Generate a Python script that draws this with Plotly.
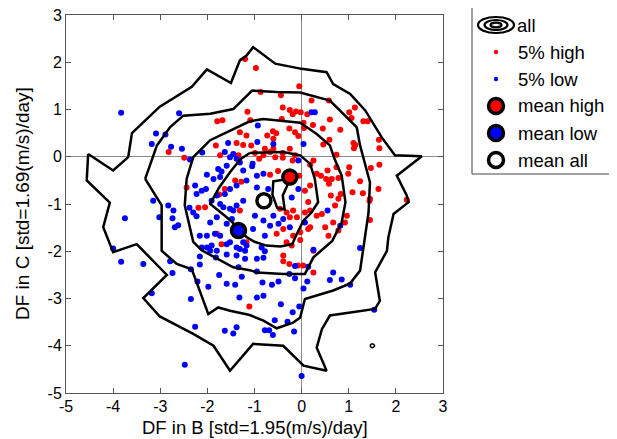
import plotly.graph_objects as go

# ---------------- data ----------------
red_x = [-1.20, -0.97, -0.05, -0.87, -0.44, 0.21, 0.58, -1.15, -1.79, -1.68, -1.09, -1.31, -1.17,
         -0.40, -0.25, -0.12, -0.02, -0.19, 1.01, 1.13, 1.31, 1.40, 1.06, 0.60, 0.24, -0.42, 0.82, 0.45,
         0.04, 0.05, 0.12, -0.26, -0.14, -0.07, 1.64, -0.73, -0.61, -0.54, -0.60, -1.82, -1.38, -1.24,
         -1.07, -2.82, -2.49, -1.73, -1.34, -0.25, 0.74, 0.46, 1.10, 1.14, 1.11, 1.65, 0.59, -0.99,
         -0.78, -0.67, -0.60, -0.40, -0.40, -0.19, -0.14, -0.56, -0.81, -0.90, 0.18, 0.32, 0.41, 0.52,
         0.55, 0.58, 0.99, 1.01, 0.74, 1.47, 1.65, 1.08, 1.30, 0.83, 0.62, 2.23, 0.18, 0.25, 0.78, 0.64,
         1.24, 1.63, 1.45, 0.07, 0.14, 0.18, 0.07, 0.32, 0.43, 0.71, 0.78, 0.96, 0.50, 0.67, 0.57, 0.78,
         0.92, 1.45, 0.18, -0.03, 0.25, 0.25, -0.39, -0.39, -0.26, -0.08, 0.03, 1.44, -0.46, -0.32,
         -0.18, -0.10, -0.25, -0.53, -0.18, -0.03, -0.39, 0.14, -0.21, -0.32, -2.44, -2.19, -2.05,
         -1.41, -1.63, -1.31, -1.80, -1.70, -1.11, -1.75, -1.28, -1.17, -0.67, -0.50, -0.05]
red_y = [2.07, 1.88, 1.49, 1.37, 1.30, 1.19, 1.19, 0.95, 0.75, 0.77, 0.77, 0.52, 0.45,
         1.04, 0.99, 0.96, 0.94, 0.90, 0.94, 1.04, 0.75, 0.75, 0.82, 0.79, 0.67, 0.80, 0.57, 0.60,
         0.72, 0.61, 0.90, 0.60, 0.52, 0.44, 0.36, 0.45, 0.54, 0.50, 0.38, 0.24, 0.29, 0.25,
         0.24, 0.10, -0.02, 0.03, 0.03, 0.17, 0.04, 0.26, 0.29, 0.25, 0.18, 0.18, 0.36, 0.08,
         0.17, 0.10, 0.17, 0.08, -0.02, -0.08, 0.03, -0.01, 0.03, -0.04, -0.17, -0.36, -0.40, -0.47,
         -0.29, -0.57, -0.36, -0.22, -0.22, -0.24, -0.17, -0.75, -0.77, -0.79, -0.82, -0.91, -0.61, -0.08, -0.45, -0.47,
         -0.52, -0.68, -0.89, -0.72, -0.96, -1.14, -1.18, -1.25, -1.21, -1.03, -0.89, -1.25, -1.49, -1.39, -1.67, -1.56,
         -1.39, -1.34, -1.49, -1.76, -1.99, -2.45, -2.09, -2.21, -2.27, -2.30, -2.30, -0.93, -1.10, -1.18,
         -1.14, -1.28, -1.28, -1.63, -1.67, -1.60, -1.53, -1.53, -1.88, -1.81, -0.65, -1.08, -1.07,
         -0.50, -0.68, -1.14, -1.63, -1.85, -3.17, -0.80, -0.53, -1.81, -0.38, -0.30, -0.40]

blue_x = [-3.83, -2.60, -3.09, -2.89, -3.18, -2.77, -2.54, -2.37, -2.11, -1.56, -0.93, 0.21, 0.28,
          -0.94, -0.60, 0.04, -0.07, -1.63, -1.45, -1.52, -1.38, -1.31, -2.26, -2.12, -2.03, -2.23,
          -2.01, -1.87, -1.73, -1.77, -1.70, -1.59, -1.24, -1.17, -1.38, -1.52, -1.63, -1.80, -1.91,
          -1.73, -1.66, -1.52, -1.38, -1.24, -1.59, -1.80, -1.94, -1.84, -2.01, -2.16, -1.73, -1.48,
          -1.45, -3.15, -3.02, -2.83, -2.72, -2.74, -2.69, -2.62, -2.38, -2.30, -2.23, -3.75, -4.00,
          -3.83, -3.36, -2.79, -2.74, -3.18, -2.35, -2.16, -2.16, -2.21, -1.98, -2.35, -1.75, -1.59,
          -1.41, -1.59, -1.82, -1.38, -1.20, -1.34, -1.27, -1.32, -2.26, -1.63, -1.38, -1.45, -2.48,
          -2.12, -2.01, -1.91, -1.94, -1.80, -1.59, -1.52, -1.38, -1.31, -1.20, -1.17, -1.24, -1.04,
          -0.81, -0.95, -0.95, -0.71, 0.55, 0.82, 0.07, -0.07, -0.21, -0.60, -0.49, -0.39, -0.25,
          -0.67, -0.81, -0.99, -1.03, -0.78, -0.85, -0.78, -0.95, -0.81, -0.95, -0.14, 0.14, -0.26,
          -0.14, 0.25, 1.24, 0.12, 0.04, 0.67, 0.85, 0.60, 1.03, -0.83, -0.63, -0.49, -0.95, -0.81,
          -0.44, -0.19, -0.05, -0.30, -0.57, -0.78, -0.69, -0.61, -0.16, 1.54, 0.00, -1.05]
blue_y = [0.93, 0.92, 0.49, 0.47, 0.27, 0.21, 0.17, -0.06, 0.09, 0.29, 0.66, 0.94, 0.94,
          0.31, 0.27, 0.27, -0.08, 0.10, 0.06, -0.01, -0.04, -0.12, -0.61, -0.72, -0.68, -0.79,
          -0.38, -0.47, -0.43, -0.26, -0.31, -0.19, -0.29, -0.50, -0.61, -0.68, -0.79, -0.82, -0.93,
          -1.00, -1.07, -1.10, -1.03, -0.93, -1.42, -1.28, -1.39, -1.63, -1.67, -1.67, -1.67, -1.32,
          -1.14, -0.93, -1.28, -1.03, -1.14, -1.30, -1.49, -1.45, -1.08, -1.18, -1.26, -1.30, -1.94,
          -2.22, -2.27, -2.21, -2.46, -2.89, -2.38, -2.28, -2.11, -2.64, -2.75, -3.01, -2.50, -2.69,
          -2.71, -2.07, -2.13, -2.09, -2.16, -2.34, -2.54, -2.98, -3.60, -3.68, -3.61, -3.74, -4.40,
          -1.92, -1.92, -1.88, -1.99, -1.99, -1.85, -1.81, -1.92, -1.95, -1.99, -1.88, -1.81, -0.15,
          -0.36, -0.40, -0.65, -0.68, -1.14, -1.46, -1.39, -0.68, -0.86, -1.25, -1.42, -1.32, -1.49,
          -1.46, -1.35, -1.25, -1.53, -1.67, -1.92, -2.00, -2.16, -2.14, -2.43, -2.31, -2.33, -2.48,
          -2.57, -1.97, -1.93, -2.64, -2.79, -2.45, -2.60, -2.61, -2.71, -2.66, -2.71, -2.64, -2.98, -2.94,
          -3.12, -3.29, -3.17, -3.49, -3.46, -3.67, -3.67, -3.77, -3.70, -3.24, -4.64, -0.20]

mean_high = (-0.25, -0.43)
mean_low = (-1.34, -1.56)
mean_all = (-0.80, -0.93)

# contour lines of the full distribution (outer to inner)
c1_x = [-4.53, -4.00, -3.68, -3.60, -3.01, -2.33, -2.01, -1.50, -1.31, -1.17, -1.03, -0.56, 0.00, 0.53,
        0.67, 1.03, 1.35, 1.70, 1.98, 2.55, 2.02, 2.23, 2.27, 1.95, 1.84, 1.81, 1.56, 1.66, 1.56, 0.60,
        0.43, 0.32, 0.53, 0.04, -0.39, -1.03, -1.52, -1.87, -2.30, -3.01, -3.36, -2.86, -3.50, -4.00,
        -4.21, -4.07, -4.56, -4.53]
c1_y = [0.06, -0.29, -0.01, 0.50, 1.06, 1.48, 1.85, 1.56, 2.04, 2.14, 2.32, 1.97, 1.86, 1.79,
        1.54, 1.33, 0.98, 0.41, 0.03, 0.01, -0.40, -0.82, -0.96, -1.21, -1.71, -1.99, -2.45, -3.05, -3.22, -3.36,
        -3.65, -4.04, -4.53, -4.42, -4.00, -3.96, -4.53, -4.00, -3.75, -3.38, -2.99, -2.50, -1.85, -2.02,
        -1.49, -0.97, -0.50, 0.06]
c2_x = [-3.32, -3.07, -2.79, -2.51, -1.94, -1.45, -1.05, -0.53, -0.03, 0.60, 0.89, 1.17, 1.24, 1.45,
        1.42, 1.33, 1.24, 1.03, 0.67, 0.07, -0.03, -0.18, -0.53, -0.81, -1.10, -1.52, -1.77, -1.98,
        -2.23, -2.33, -2.65, -2.97, -2.97, -3.32]
c2_y = [-0.47, 0.24, 0.63, 0.87, 0.91, 1.01, 1.40, 1.37, 1.36, 1.19, 0.90, 0.62, 0.24, -0.54,
        -1.18, -1.78, -2.41, -2.68, -2.83, -3.01, -3.40, -3.51, -3.63, -3.47, -3.35, -3.26, -3.19, -3.33,
        -2.62, -2.38, -2.27, -1.99, -1.03, -0.47]
c3_x = [-2.44, -2.30, -1.94, -1.45, -1.10, -0.81, -0.46, -0.03, 0.32, 0.60, 0.70, 0.85, 0.93, 0.85,
        0.65, 0.25, 0.07, -0.39, -0.95, -1.10, -1.45, -1.80, -2.12, -2.30, -2.48, -2.44]
c3_y = [-0.47, -0.01, 0.35, 0.58, 0.75, 0.80, 0.77, 0.72, 0.48, 0.24, -0.05, -0.40, -0.96, -1.39,
        -1.78, -2.13, -2.48, -2.48, -2.45, -2.40, -2.34, -2.15, -1.98, -1.80, -1.03, -0.47]
c4_x = [-1.10, -0.39, -0.03, 0.18, 0.28, 0.35, 0.21, 0.04, -0.10, -0.20, -0.45, -0.75, -1.00, -1.17,
        -1.31, -1.59, -1.94, -1.75, -1.52, -1.30, -1.10]
c4_y = [0.08, 0.10, 0.03, -0.15, -0.47, -0.96, -1.18, -1.35, -1.63, -1.85, -1.90, -1.88, -1.80, -1.70,
        -1.53, -1.28, -1.00, -0.65, -0.33, -0.05, 0.08]
c5_x = [-0.35, -0.60, -0.62, -0.52, -0.36, -0.40, -0.30, -0.35]
c5_y = [-0.48, -0.52, -0.80, -1.08, -1.12, -0.82, -0.60, -0.48]
c6_x = [1.45, 1.47, 1.50, 1.53, 1.55, 1.53, 1.50, 1.47, 1.45]
c6_y = [-4.00, -3.97, -3.96, -3.97, -4.00, -4.03, -4.04, -4.03, -4.00]

x_ticks = [-5, -4, -3, -2, -1, 0, 1, 2, 3]
y_ticks = [-5, -4, -3, -2, -1, 0, 1, 2, 3]
x_title = "DF in B [std=1.95(m/s)/day]"
y_title = "DF in C [std=1.69(m/s)/day]"
legend_labels = ["all", "5% high", "5% low", "mean high", "mean low", "mean all"]

# ---------------- figure ----------------
# the page body has an 8px margin, so the figure starts at (8, 8) in the window
OFF = 8
W, H = 617 - OFF, 439 - OFF
L, T = 66 - OFF, 15 - OFF
R = W - (443 - OFF)
B = H - (393 - OFF)
PW, PH = W - L - R, H - T - B
FONT = "Liberation Sans, Arial, sans-serif"

def px(xp):
    """window pixel x -> paper coordinate"""
    return (xp - OFF - L) / PW

def py(yp):
    """window pixel y -> paper coordinate"""
    return (H - B - (yp - OFF)) / PH

fig = go.Figure()
fig.add_trace(go.Scatter(x=red_x, y=red_y, mode="markers",
                         marker=dict(color="#ff0000", size=6), showlegend=False))
fig.add_trace(go.Scatter(x=blue_x, y=blue_y, mode="markers",
                         marker=dict(color="#0000ff", size=6), showlegend=False))
for cx, cy in [(c1_x, c1_y), (c2_x, c2_y), (c3_x, c3_y), (c4_x, c4_y), (c5_x, c5_y)]:
    fig.add_trace(go.Scatter(x=cx, y=cy, mode="lines", line=dict(color="black", width=2.5),
                             showlegend=False))
fig.add_trace(go.Scatter(x=c6_x, y=c6_y, mode="lines", line=dict(color="black", width=1.5),
                         showlegend=False))
for (mx, my), col in [(mean_high, "#ff0000"), (mean_low, "#0000ff"), (mean_all, "white")]:
    fig.add_trace(go.Scatter(x=[mx], y=[my], mode="markers",
                             marker=dict(color=col, size=14, line=dict(color="black", width=3.5)),
                             showlegend=False))

axis_common = dict(range=[-5, 3], showgrid=False, zeroline=True, zerolinecolor="#8a8a8a",
                   zerolinewidth=1, showline=True, linecolor="#555555", linewidth=1,
                   mirror="ticks", ticks="inside", ticklen=5, tickcolor="#555555",
                   automargin=False, ticklabeloverflow="allow",
                   tickfont=dict(family=FONT, size=16, color="black"))
fig.update_xaxes(**axis_common, tickvals=x_ticks, ticktext=[str(v) for v in x_ticks],
                 ticklabelstandoff=-1)
fig.update_yaxes(**axis_common, tickvals=y_ticks, ticktext=[str(v) for v in y_ticks])

# ---------------- legend and titles (drawn manually) ----------------
shapes = []
annotations = [
    dict(xref="paper", yref="paper", x=0.5, y=py(427.5), text=x_title, showarrow=False,
         xanchor="center", yanchor="middle", font=dict(family=FONT, size=18.5, color="black")),
    dict(xref="paper", yref="paper", x=px(22), y=0.5, text=y_title, showarrow=False, textangle=-90,
         xanchor="center", yanchor="middle", font=dict(family=FONT, size=19, color="black")),
]
shapes.append(dict(type="rect", xref="paper", yref="paper", x0=px(472), x1=px(616),
                   y0=py(174), y1=py(6), line=dict(color="#444444", width=1), fillcolor="white"))
rows = [25, 52, 79, 106, 133, 160]
icon_x = px(496)
for rx, ry in [(18, 8), (11.5, 5), (5.5, 2.3)]:
    shapes.append(dict(type="circle", xref="paper", yref="paper", xsizemode="pixel", ysizemode="pixel",
                       xanchor=icon_x, yanchor=py(rows[0]), x0=-rx, x1=rx, y0=-ry, y1=ry,
                       line=dict(color="black", width=2.2)))
for r, col in [(rows[1], "#ff0000"), (rows[2], "#0000ff")]:
    shapes.append(dict(type="circle", xref="paper", yref="paper", xsizemode="pixel", ysizemode="pixel",
                       xanchor=icon_x, yanchor=py(r), x0=-2.2, x1=2.2, y0=-2.2, y1=2.2,
                       fillcolor=col, line=dict(width=0)))
for r, col in [(rows[3], "#ff0000"), (rows[4], "#0000ff"), (rows[5], "white")]:
    shapes.append(dict(type="circle", xref="paper", yref="paper", xsizemode="pixel", ysizemode="pixel",
                       xanchor=icon_x, yanchor=py(r), x0=-7.5, x1=7.5, y0=-7.5, y1=7.5,
                       fillcolor=col, line=dict(color="black", width=3.5)))
for r, lab in zip(rows, legend_labels):
    annotations.append(dict(xref="paper", yref="paper", x=px(515 if lab == "all" else 516), y=py(r),
                            text=lab, showarrow=False, xanchor="left", yanchor="middle",
                            font=dict(family=FONT, size=18.5, color="black")))

fig.update_layout(width=W, height=H, margin=dict(l=L, r=R, t=T, b=B, autoexpand=False),
                  plot_bgcolor="white", paper_bgcolor="white",
                  shapes=shapes, annotations=annotations, showlegend=False)
fig.write_html("out.html")
